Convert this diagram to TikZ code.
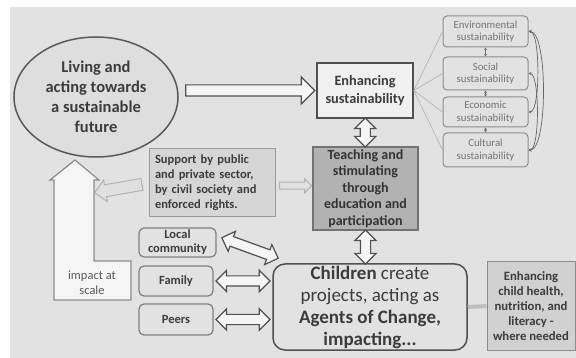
\documentclass[tikz,border=0pt]{standalone}
\usepackage{fontspec}
\setmainfont{Carlito}
\usepackage{xcolor}
\usetikzlibrary{positioning,calc,shapes.geometric,shapes.arrows,arrows.meta}
\definecolor{bgray}{RGB}{226,226,226}
\definecolor{lines}{RGB}{80,80,80}
\definecolor{txt}{RGB}{60,60,60}

\tikzset{
  bx/.style={draw=lines, line width=1.5pt, inner sep=0pt, align=center, text=txt},
  sbx/.style={draw=black!45, line width=1pt, rounded corners=4pt, fill=bgray, inner sep=0pt,
    align=center, text=black!55, minimum width=85pt, font=\fontsize{10.8}{12.5}\selectfont},
  smallbx/.style={draw=black!50, line width=1.2pt, rounded corners=5pt, fill=bgray, inner sep=0pt,
    align=center, text=txt, font=\fontsize{12.5}{14}\selectfont\bfseries},
  dblarr/.style={double arrow, draw=lines, fill=black!4, line width=1.2pt, inner xsep=0pt,
    inner ysep=4.5pt, double arrow head extend=5.5pt},
  onearr/.style={single arrow, draw=black!30, fill=black!12, line width=1pt, inner xsep=0pt}
}

\begin{document}
\begin{tikzpicture}[x=1pt,y=-1pt]
  \useasboundingbox (0,0) rectangle (576,358);
  \fill[white] (0,0) rectangle (576,358);
  \fill[bgray] (10,7) rectangle (576,358);

  % main blocks
  \node[ellipse, bx, fill=black!13, draw=black!65, minimum width=164pt, minimum height=120pt,
    font=\fontsize{16.5}{20}\selectfont\bfseries] (live) at (96,97)
    {Living and\\acting towards\\a sustainable\\future};
  \node[bx, fill=black!6, minimum width=96pt, minimum height=55pt,
    font=\fontsize{14.3}{18}\selectfont\bfseries] (enh) at (365,90.5) {Enhancing\\sustainability};
  \node[bx, fill=black!30, draw=black!55, minimum width=105pt, minimum height=83pt, text=black!80,
    font=\fontsize{14}{16.5}\selectfont\bfseries] (teach) at (365.5,188.5)
    {Teaching and\\stimulating\\through\\education and\\participation};
  \node[bx, fill=black!16, draw=black!40, line width=1pt, minimum width=126pt, minimum height=68pt,
    align=left, text width=114pt, font=\fontsize{12.5}{15}\selectfont\bfseries] (supp) at (212,183)
    {Support by public\\and private sector,\\by civil society and\\enforced rights.};
  \node[bx, rounded corners=12pt, fill=bgray, minimum width=194pt, minimum height=86pt,
    font=\fontsize{19}{22}\selectfont] (kids) at (370,307)
    {\textbf{Children} create\\projects, acting as\\\textbf{Agents of Change,}\\\textbf{impacting...}};
  \node[bx, fill=black!18, draw=black!45, line width=1pt, minimum width=88pt, minimum height=88pt,
    font=\fontsize{12.7}{15}\selectfont\bfseries] (health) at (531,306)
    {Enhancing\\child health,\\nutrition, and\\literacy -\\where needed};

  % sustainability boxes
  \node[sbx, minimum height=31pt] (env) at (485.5,31.5) {Environmental\\sustainability};
  \node[sbx, minimum height=33pt] (soc) at (485.5,73.5) {Social\\sustainability};
  \node[sbx, minimum height=30pt] (eco) at (485.5,112) {Economic\\sustainability};
  \node[sbx, minimum height=34pt] (cul) at (485.5,150) {Cultural\\sustainability};

  % surroundings
  \node[smallbx, minimum width=77pt, minimum height=29pt] (local) at (177.5,242.5) {Local\\community};
  \node[smallbx, minimum width=74pt, minimum height=30pt] (family) at (176,281) {Family};
  \node[smallbx, minimum width=74pt, minimum height=31pt] (peers) at (176,319.5) {Peers};

  % impact at scale
  \draw[draw=black!45, fill=black!4, line width=1.2pt]
    (54,300) -- (54,180) -- (50,180) -- (75,160) -- (99,180) -- (94,180)
    -- (94,261) -- (131,261) -- (131,300) -- cycle;
  \node[text=black!65, align=center, font=\fontsize{12.5}{15}\selectfont] (impact) at (92,283)
    {impact at\\scale};
  \coordinate (shaft) at (94,193);

  % block arrows
  \node[single arrow, draw=lines, fill=black!4, line width=1.2pt, inner xsep=0pt, inner ysep=5pt,
    minimum height=129pt, single arrow head extend=8pt] (a1)
    at ($(live.east |- enh.west)!0.5!(enh.west)$) {};
  \node[dblarr, rotate=90, minimum height=29pt] (a2) at ($(enh.south)!0.5!(teach.north)$) {};
  \node[dblarr, rotate=90, minimum height=34pt] (a3)
    at ($(teach.south)!0.5!(teach.south |- kids.north)$) {};
  \node[dblarr, rotate=-20, minimum height=60pt] (a4) at (250,248) {};
  \node[dblarr, minimum height=54pt] (a5) at ($(family.east)!0.5!(family.east -| kids.west)$) {};
  \node[dblarr, minimum height=54pt] (a6) at ($(peers.east)!0.5!(peers.east -| kids.west)$) {};
  \node[onearr, minimum height=32pt, inner ysep=3pt, single arrow head extend=3.5pt] (a7)
    at ($(supp.east)!0.5!(teach.west)$) {};
  \node[onearr, rotate=190, minimum height=48pt, inner ysep=5.5pt, single arrow head extend=5pt] (a8)
    at ($(supp.west)!0.5!(shaft)$) {};

  % thin links
  \foreach \n in {env,soc,eco,cul}
    \draw[black!30, line width=0.6pt] (enh.east) -- (\n.west);
  \draw[black!55, {Stealth[length=2.5pt,width=3pt]}-{Stealth[length=2.5pt,width=3pt]}] (env) -- (soc);
  \draw[black!55, {Stealth[length=2.5pt,width=3pt]}-{Stealth[length=2.5pt,width=3pt]}] (soc) -- (eco);
  \draw[black!55, {Stealth[length=2.5pt,width=3pt]}-{Stealth[length=2.5pt,width=3pt]}] (eco) -- (cul);
  \draw[black!60, line width=0.7pt, {Stealth[length=3pt,width=3pt]}-{Stealth[length=3pt,width=3pt]}]
    (env.east) to[out=0, in=0, looseness=0.42] (cul.east);
  \draw[black!60, line width=0.7pt, {Stealth[length=3pt,width=3pt]}-{Stealth[length=3pt,width=3pt]}]
    (env.east) to[out=0, in=0, looseness=0.38] (eco.east);
  \draw[black!60, line width=0.7pt, {Stealth[length=3pt,width=3pt]}-{Stealth[length=3pt,width=3pt]}]
    (soc.east) to[out=0, in=0, looseness=0.38] (cul.east);
  \draw[black!25, line width=4pt] (kids.east) -- (health.west);
\end{tikzpicture}
\end{document}
